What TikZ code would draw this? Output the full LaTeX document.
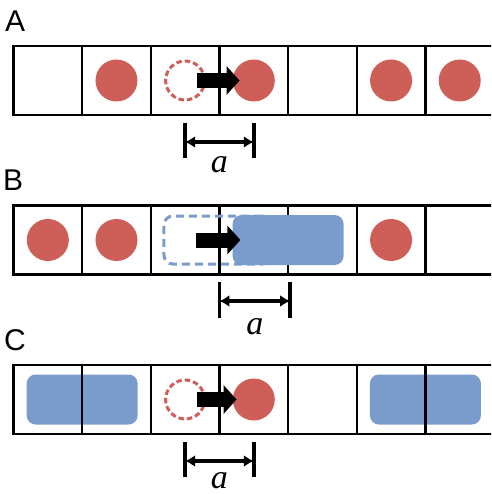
\documentclass[tikz,border=0pt]{standalone}
\usepackage{fontspec}
\setmainfont{Liberation Sans}
\newfontfamily\lenfont{Liberation Serif}
\definecolor{partred}{RGB}{205,95,88}
\definecolor{blockblue}{RGB}{122,156,204}
\usetikzlibrary{arrows.meta, positioning, backgrounds}

\begin{document}
\begin{tikzpicture}[x=1pt, y=-1pt]
  % Styles
  \tikzstyle{cell}=[draw, line width=2.4pt, minimum width=68.65pt, minimum height=69pt, inner sep=0pt, outer sep=0pt]
  \tikzstyle{part}=[circle, fill=partred, minimum size=42pt, inner sep=0pt]
  \tikzstyle{ghost}=[circle, draw=partred, dash pattern=on 5.5pt off 3pt, line width=3pt, minimum size=39pt, inner sep=0pt]
  \tikzstyle{block}=[rounded corners=9pt, fill=blockblue, minimum width=111pt, minimum height=50pt, inner sep=0pt]
  \tikzstyle{ghostblock}=[rounded corners=9pt, draw=blockblue, dash pattern=on 8pt off 5pt, line width=3pt, minimum width=107pt, minimum height=48pt, inner sep=0pt]
  \tikzstyle{move}=[line width=15pt, -{Triangle[length=13pt,width=28pt]}]
  \tikzstyle{bar}=[line width=3.6pt]
  \tikzstyle{dim}=[line width=3.2pt, {Latex[length=10pt,width=12pt]}-{Latex[length=10pt,width=12pt]}]
  \tikzstyle{panel}=[font=\fontsize{30}{36}\selectfont, inner sep=0pt, anchor=base west]
  \tikzstyle{len}=[font=\lenfont\itshape\fontsize{34}{40}\selectfont, inner sep=0pt, anchor=base]

  \clip (0,0) rectangle (491,494);

  % Cells
  \foreach \r/\y in {a/80.5, b/240, c/399.5}
    \foreach \i in {1,...,7}
      \node[cell] (\r\i) at ({13.5+68.65*(\i-0.5)},\y) {};

  % A: single particle hop
  \node[panel] (labA) at (5,32) {A};
  \node[part] (a2p) at (a2) {};
  \node[part] (a6p) at (a6) {};
  \node[part] (a7p) at (a7) {};
  \node[ghost] (gA) at (a3) {};
  \node[part] (pA) at (a4) {};
  \draw[move] ([xshift=12pt]gA.center) -- ([xshift=7pt]pA.west);
  \coordinate (dA1) at ([yshift=-61.5pt]gA.center);
  \coordinate (dA2) at ([yshift=-61.5pt]pA.center);
  \draw[bar] ([yshift=19pt]dA1) -- ([yshift=-16pt]dA1);
  \draw[bar] ([yshift=19pt]dA2) -- ([yshift=-16pt]dA2);
  \draw[dim] (dA1) -- (dA2) node[len, midway, yshift=-30pt] (lenA) {a};

  % B: dimer hop
  \node[panel] (labB) at (3,190) {B};
  \node[part] (b1p) at (b1) {};
  \node[part] (b2p) at (b2) {};
  \node[part] (b6p) at (b6) {};
  \node[ghostblock] (gB) at ([xshift=-2pt]b3.east) {};
  \node[block] (pB) at (b4.east) {};
  \draw[move] ([xshift=-21pt]gB.center) -- ([xshift=8pt]pB.west);
  \coordinate (dB1) at ([yshift=-61pt]b3.east);
  \coordinate (dB2) at ([yshift=-61pt, xshift=2pt]b4.east);
  \draw[bar] ([yshift=19pt]dB1) -- ([yshift=-17pt]dB1);
  \draw[bar] ([yshift=19pt]dB2) -- ([yshift=-17pt]dB2);
  \draw[dim] (dB1) -- (dB2) node[len, midway, yshift=-33pt] (lenB) {a};

  % C: particle hop between dimers
  \node[panel] (labC) at (4,350) {C};
  \begin{scope}[on background layer]
    \node[block] (c12) at (c1.east) {};
    \node[block] (c67) at (c6.east) {};
  \end{scope}
  \node[ghost] (gC) at (c3) {};
  \node[part] (pC) at (c4) {};
  \draw[move] ([xshift=12pt]gC.center) -- ([xshift=4pt]pC.west);
  \coordinate (dC1) at ([yshift=-61.5pt]gC.center);
  \coordinate (dC2) at ([yshift=-61.5pt]pC.center);
  \draw[bar] ([yshift=19pt]dC1) -- ([yshift=-16pt]dC1);
  \draw[bar] ([yshift=19pt]dC2) -- ([yshift=-16pt]dC2);
  \draw[dim] (dC1) -- (dC2) node[len, midway, yshift=-27pt] (lenC) {a};
\end{tikzpicture}
\end{document}
